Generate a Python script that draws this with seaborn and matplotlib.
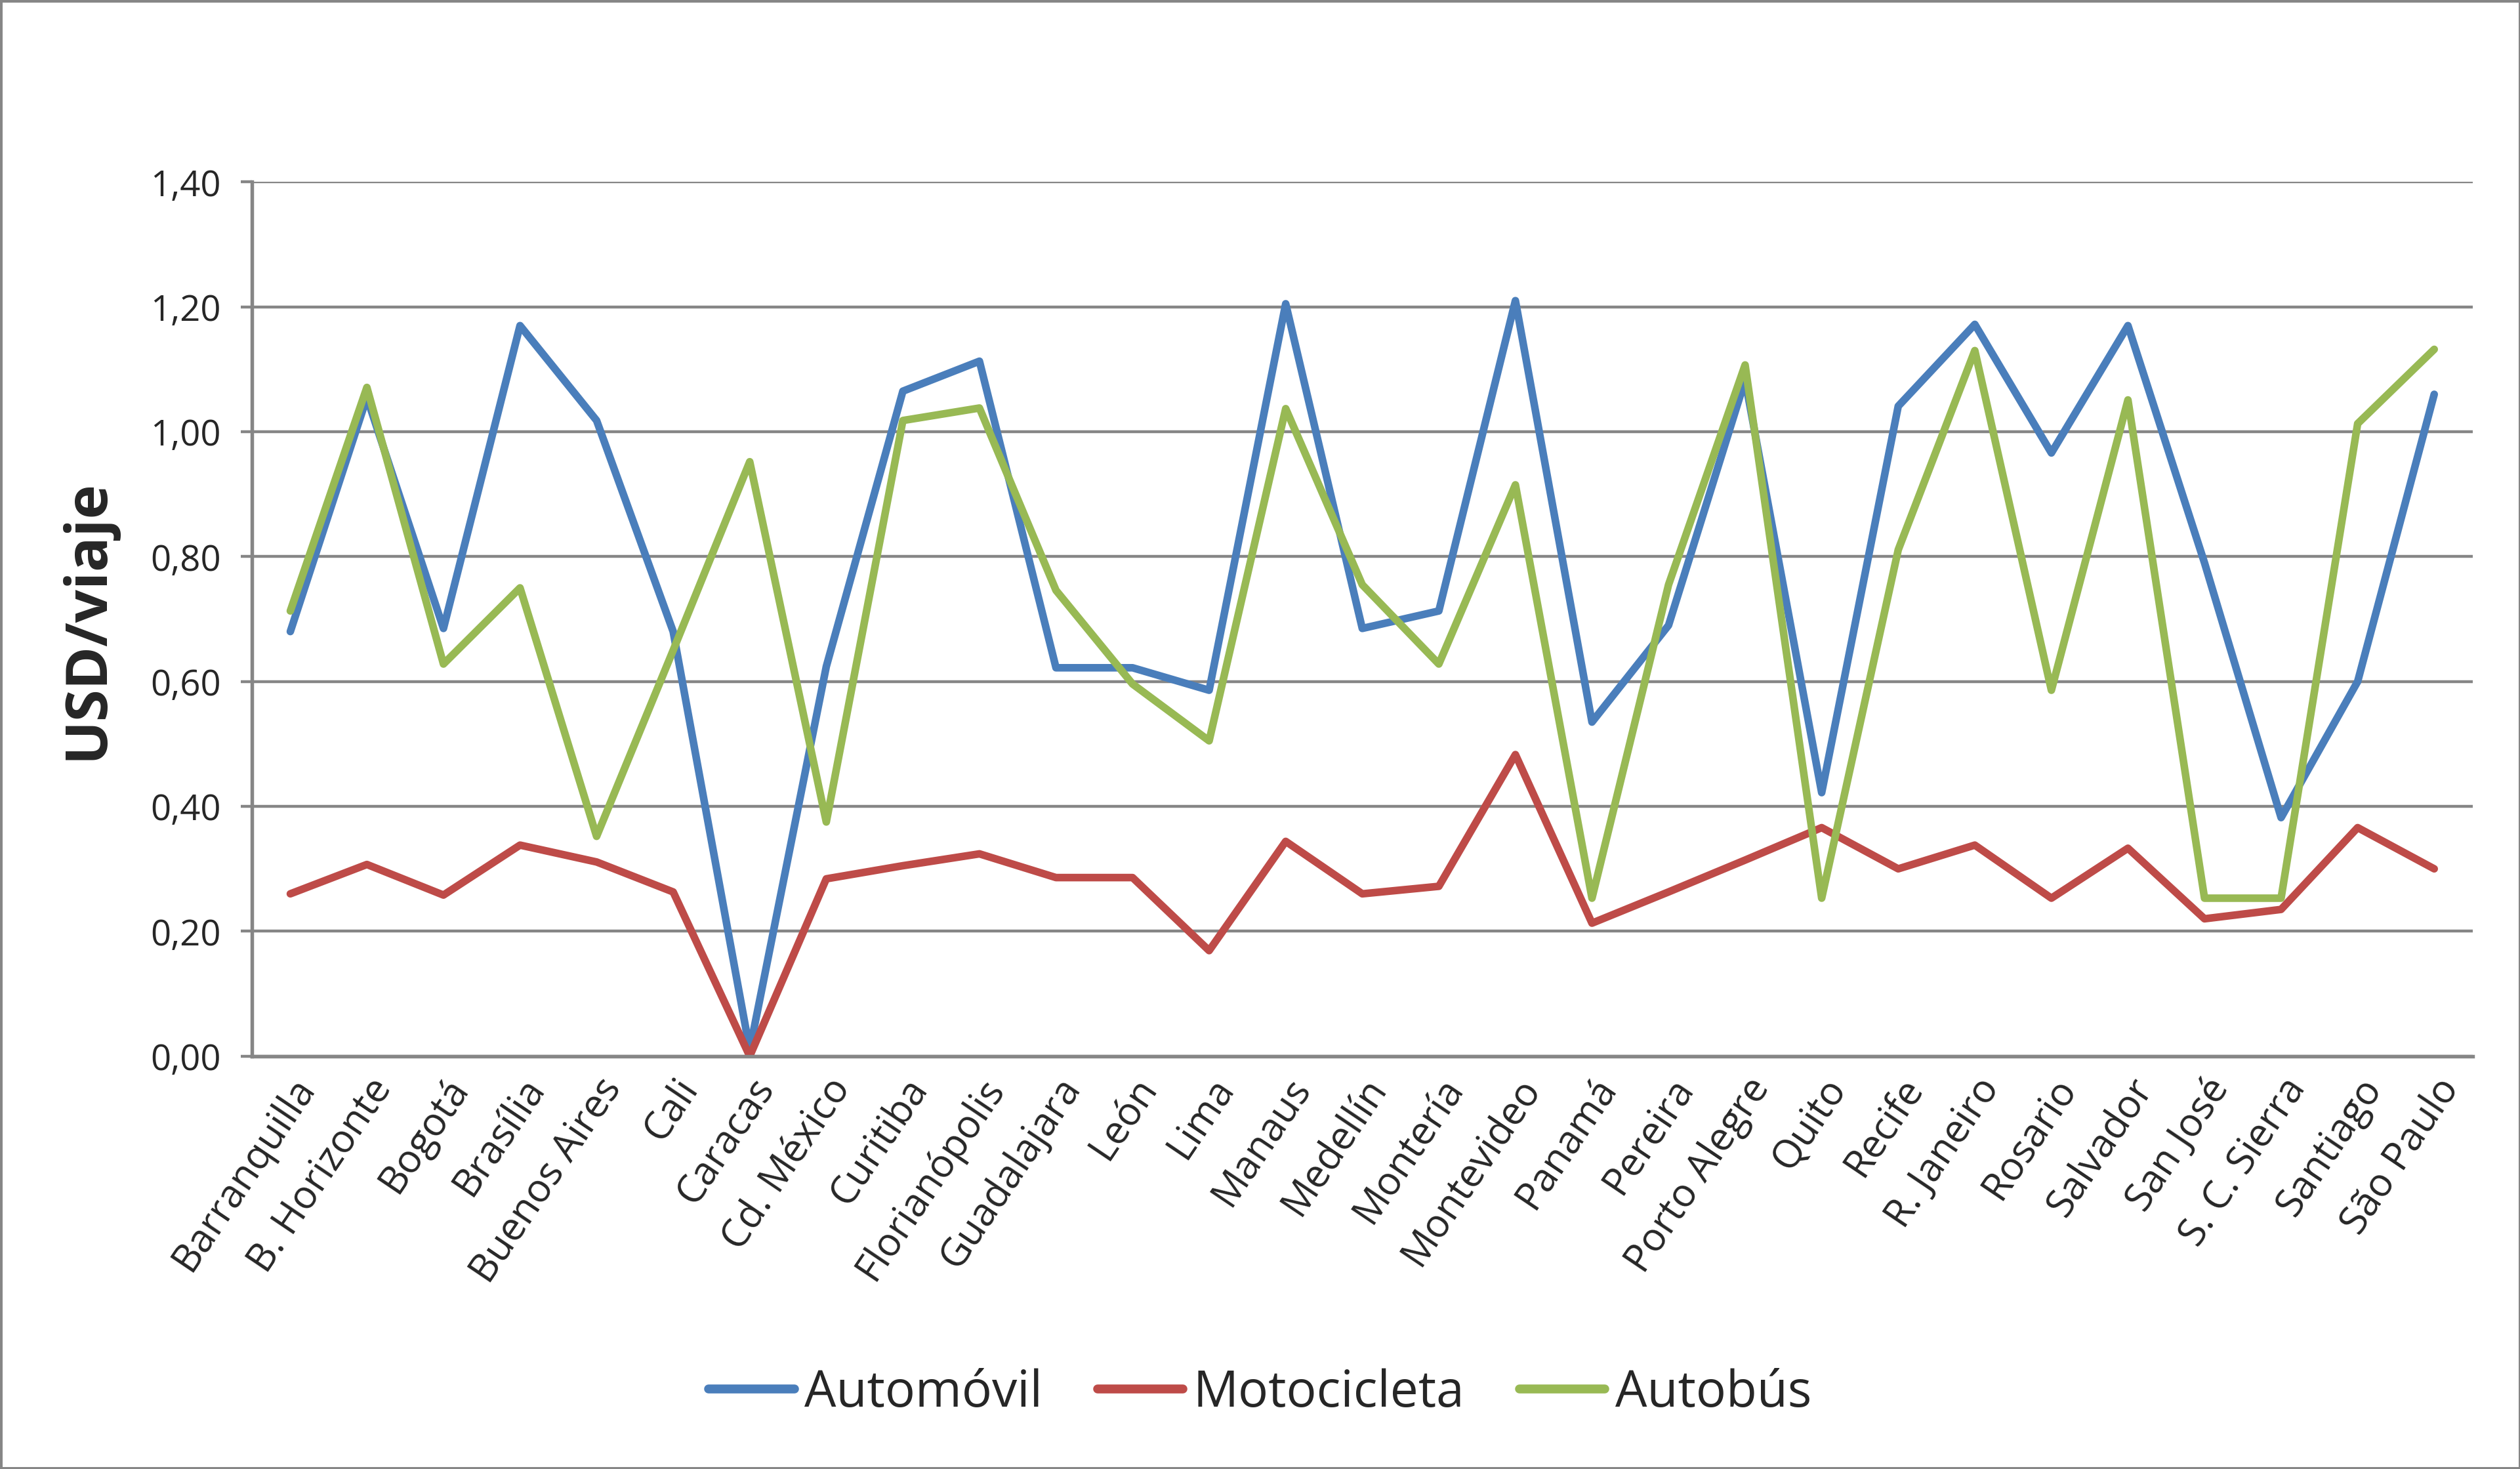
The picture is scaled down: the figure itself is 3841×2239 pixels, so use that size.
import pandas as pd
import seaborn as sns
import matplotlib.pyplot as plt

sns.set_style("white")
plt.rcParams['font.family'] = ['Open Sans', 'DejaVu Sans']

ciudades = ["Barranquilla", "B. Horizonte", "Bogotá", "Brasília", "Buenos Aires", "Cali",
            "Caracas", "Cd. México", "Curitiba", "Florianópolis", "Guadalajara", "León",
            "Lima", "Manaus", "Medellín", "Montería", "Montevideo", "Panamá", "Pereira",
            "Porto Alegre", "Quito", "Recife", "R. Janeiro", "Rosario", "Salvador",
            "San José", "S. C. Sierra", "Santiago", "São Paulo"]

automovil = [0.68, 1.055, 0.685, 1.17, 1.018, 0.68, 0.01, 0.624, 1.065, 1.113, 0.622, 0.622,
             0.586, 1.205, 0.685, 0.713, 1.21, 0.535, 0.69, 1.083, 0.422, 1.041, 1.172,
             0.966, 1.17, 0.79, 0.382, 0.60, 1.06]
motocicleta = [0.26, 0.307, 0.258, 0.338, 0.311, 0.263, 0.0, 0.284, 0.305, 0.324, 0.286,
               0.286, 0.169, 0.344, 0.26, 0.272, 0.483, 0.213, 0.263, 0.314, 0.366, 0.30,
               0.338, 0.253, 0.333, 0.22, 0.235, 0.366, 0.30]
autobus = [0.713, 1.071, 0.628, 0.75, 0.352, 0.65, 0.952, 0.375, 1.018, 1.038, 0.746, 0.596,
           0.505, 1.037, 0.755, 0.628, 0.915, 0.253, 0.755, 1.107, 0.253, 0.811, 1.13,
           0.586, 1.051, 0.253, 0.253, 1.013, 1.132]

modos = ["Automóvil", "Motocicleta", "Autobús"]
colores = ["#4A7EBB", "#BE4B48", "#98B954"]

df = pd.DataFrame({
    "pos": list(range(len(ciudades))) * 3,
    "valor": automovil + motocicleta + autobus,
    "Modo": [m for m in modos for _ in ciudades],
})

fig = plt.figure(figsize=(15.68, 9.14), dpi=245, edgecolor="#868686", linewidth=2)
ax = fig.add_axes([0.100, 0.281, 0.881, 0.595])

sns.lineplot(data=df, x="pos", y="valor", hue="Modo", hue_order=modos,
             palette=colores, linewidth=3.4, estimator=None, sort=False, ax=ax)

ax.set_xlim(-0.5, len(ciudades) - 0.5)
ax.set_ylim(0, 1.4)
ax.set_xticks(range(len(ciudades)))
ax.set_xticklabels(ciudades, rotation=56, ha="right", rotation_mode="anchor", fontsize=17.5)
yt = [i * 0.2 for i in range(8)]
ax.set_yticks(yt)
ax.set_yticklabels([f"{v:.2f}".replace(".", ",") for v in yt], fontsize=16)
ax.yaxis.grid(True, color="#868686", linewidth=1.3)
ax.xaxis.grid(False)
ax.tick_params(axis="y", which="major", left=True, length=5, width=1.3, color="#868686", pad=9)
ax.tick_params(axis="x", bottom=False, pad=3)
for s in ["top", "right"]:
    ax.spines[s].set_visible(False)
for s in ["left", "bottom"]:
    ax.spines[s].set_color("#868686")
    ax.spines[s].set_linewidth(1.6)

ax.set_xlabel("")
ax.set_ylabel("USD/viaje", fontsize=26, fontweight="bold", labelpad=15)

ax.legend(loc="center", bbox_to_anchor=(0.5, 0.0514), bbox_transform=fig.transFigure,
          ncol=3, frameon=False, fontsize=22.5, handlelength=1.7, columnspacing=1.1,
          handletextpad=0.2)
for line in ax.get_legend().get_lines():
    line.set_linewidth(4)

fig.savefig("out.png", dpi=245, edgecolor=fig.get_edgecolor())
